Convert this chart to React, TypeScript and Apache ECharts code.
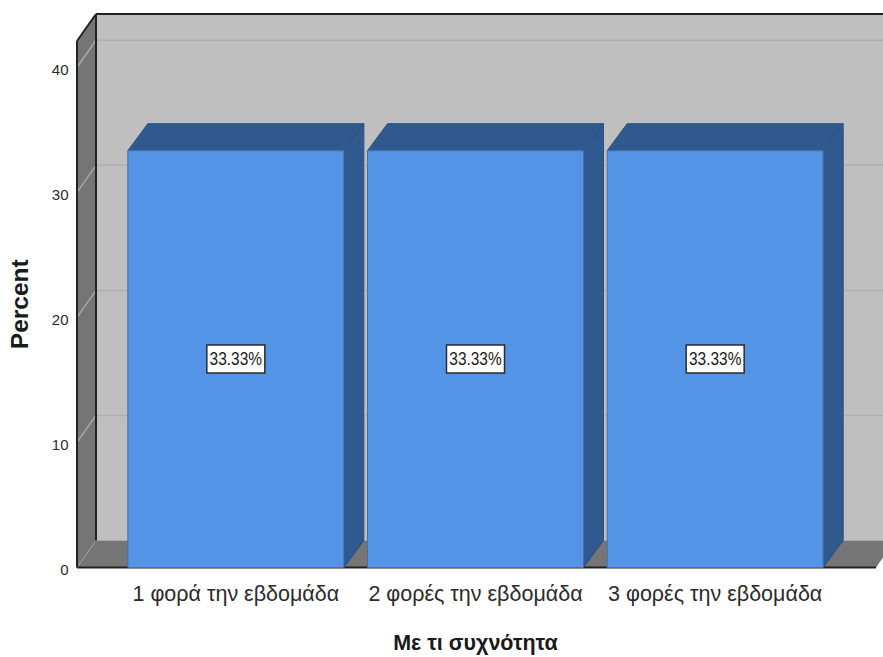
import React, { useEffect, useRef } from "react";
import * as echarts from "echarts";

const categories = ["1 φορά την εβδομάδα", "2 φορές την εβδομάδα", "3 φορές την εβδομάδα"];
const percentValues = [33.33, 33.33, 33.33];
const gridTicks = [0, 10, 20, 30, 40];
const axisCeiling = 42.1;
const xAxisTitle = "Με τι συχνότητα";
const yAxisTitle = "Percent";

// Oblique offset of the 3D projection, in pixels.
const DEPTH_X = 19;
const DEPTH_Y = -27;
const BAR_DEPTH_X = 20;
const WALL_OVERHANG = 39;
const BAR_WIDTH = 216;

const FONT = '"Liberation Sans", Arial, sans-serif';

function poly(points: number[][], fill: string, stroke?: string) {
  return {
    type: "polygon",
    shape: { points },
    style: { fill, stroke: stroke ?? "none", lineWidth: stroke ? 1 : 0 },
  };
}

function seg(x1: number, y1: number, x2: number, y2: number, stroke: string, lineWidth = 1, lineDash?: number[]) {
  return {
    type: "line",
    shape: { x1, y1, x2, y2 },
    style: { stroke, lineWidth, lineDash },
  };
}

// Back wall, side wall, floor and the grid lines that run across them.
function renderWalls(params: any, api: any) {
  const cs = params.coordSys;
  const left = cs.x - WALL_OVERHANG;
  const right = cs.x + cs.width + WALL_OVERHANG + 2;
  const bottom = api.coord([0, 0])[1];
  const top = api.coord([0, axisCeiling])[1];
  const children: any[] = [
    poly(
      [[left + DEPTH_X, top + DEPTH_Y], [right + DEPTH_X + 20, top + DEPTH_Y], [right + DEPTH_X + 20, bottom + DEPTH_Y], [left + DEPTH_X, bottom + DEPTH_Y]],
      "#bfbfbf",
    ),
    poly(
      [[left, top], [left + DEPTH_X, top + DEPTH_Y], [left + DEPTH_X, bottom + DEPTH_Y], [left, bottom]],
      "#757575",
    ),
    poly(
      [[left, bottom], [left + DEPTH_X, bottom + DEPTH_Y], [right + DEPTH_X, bottom + DEPTH_Y], [right, bottom]],
      "#757575",
    ),
  ];
  gridTicks.forEach((tick) => {
    const y = api.coord([0, tick])[1];
    if (tick > 0) {
      children.push(seg(left + DEPTH_X, y + DEPTH_Y, right + DEPTH_X + 20, y + DEPTH_Y, "#b0b0b0", 1.5));
      children.push(seg(left, y, left + DEPTH_X, y + DEPTH_Y, "#a8a8a8", 1.5));
    } else {
      children.push(seg(left, y, left + DEPTH_X, y + DEPTH_Y, "#a8a8a8", 1, [2, 2]));
    }
  });
  children.push(
    seg(left + DEPTH_X, top + DEPTH_Y, right + DEPTH_X + 20, top + DEPTH_Y, "#222222", 2),
    seg(left, top, left + DEPTH_X, top + DEPTH_Y, "#222222", 2),
    seg(left, top, left, bottom, "#222222", 2),
    seg(left + DEPTH_X, top + DEPTH_Y, left + DEPTH_X, bottom + DEPTH_Y, "#222222", 2),
    seg(left, bottom, right, bottom, "#222222", 2),
  );
  return { type: "group", children };
}

// One extruded bar with its boxed percentage label.
function renderBar(_params: any, api: any) {
  const index = api.value(0);
  const value = api.value(1);
  const [cx, yTop] = api.coord([index, value]);
  const yBase = api.coord([index, 0])[1];
  const yMid = api.coord([index, value / 2])[1];
  const x0 = cx - BAR_WIDTH / 2;
  const x1 = cx + BAR_WIDTH / 2;
  const dx = BAR_DEPTH_X;
  const dy = DEPTH_Y;
  return {
    type: "group",
    children: [
      poly([[x1, yTop], [x1 + dx, yTop + dy], [x1 + dx, yBase + dy], [x1, yBase]], "#30598f", "#2d4f7e"),
      poly([[x0, yTop], [x0 + dx, yTop + dy], [x1 + dx, yTop + dy], [x1, yTop]], "#30598f", "#2d4f7e"),
      {
        type: "rect",
        shape: { x: x0, y: yTop, width: BAR_WIDTH, height: yBase - yTop },
        style: { fill: "#5394e6", stroke: "#4a6f9f", lineWidth: 1 },
      },
      {
        type: "rect",
        shape: { x: cx - 29, y: yMid - 14, width: 58, height: 28 },
        style: { fill: "#ffffff", stroke: "#2b2b2b", lineWidth: 1.5 },
      },
      {
        type: "text",
        x: cx,
        y: yMid,
        scaleX: 0.86,
        style: {
          text: `${value.toFixed(2)}%`,
          x: 0,
          y: 0,
          align: "center",
          verticalAlign: "middle",
          fill: "#1a1a1a",
          font: `18px ${FONT}`,
        },
      },
    ],
  };
}

export default function App() {
  const ref = useRef<HTMLDivElement>(null);

  useEffect(() => {
    const chart = echarts.init(ref.current!, null, { renderer: "svg" });
    chart.setOption({
      animation: false,
      backgroundColor: "#ffffff",
      grid: { left: 116, right: 48, top: 41, bottom: 89.5, outerBoundsMode: "none" },
      xAxis: {
        type: "category",
        data: categories,
        axisLine: { show: false },
        axisTick: { show: false },
        axisLabel: { color: "#2b2b2b", fontFamily: FONT, fontSize: 21.5, margin: 15, interval: 0 },
        name: xAxisTitle,
        nameLocation: "middle",
        nameGap: 64,
        nameTextStyle: { color: "#1a1a1a", fontFamily: FONT, fontSize: 21.5, fontWeight: "bold" },
      },
      yAxis: {
        type: "value",
        min: 0,
        max: axisCeiling,
        interval: 10,
        axisLine: { show: false },
        axisTick: { show: false },
        splitLine: { show: false },
        axisLabel: {
          color: "#2b2b2b",
          fontFamily: FONT,
          fontSize: 15,
          margin: 47.5,
          showMaxLabel: false,
          verticalAlign: "top",
          lineHeight: 4,
        },
        name: yAxisTitle,
        nameLocation: "middle",
        nameGap: 84,
        nameTextStyle: { color: "#1a1a1a", fontFamily: FONT, fontSize: 24.5, fontWeight: "bold" },
      },
      series: [
        {
          type: "custom",
          silent: true,
          renderItem: renderWalls,
          encode: { x: 0, y: 1 },
          data: [[0, axisCeiling]],
          z: 1,
        },
        {
          type: "custom",
          silent: true,
          renderItem: renderBar,
          encode: { x: 0, y: 1 },
          data: percentValues.map((v, i) => [i, v]),
          z: 2,
        },
      ],
    });
    return () => chart.dispose();
  }, []);

  return (
    <div
      ref={ref}
      style={{ position: "fixed", left: 0, top: 0, width: 883, height: 657, overflow: "hidden" }}
    />
  );
}
